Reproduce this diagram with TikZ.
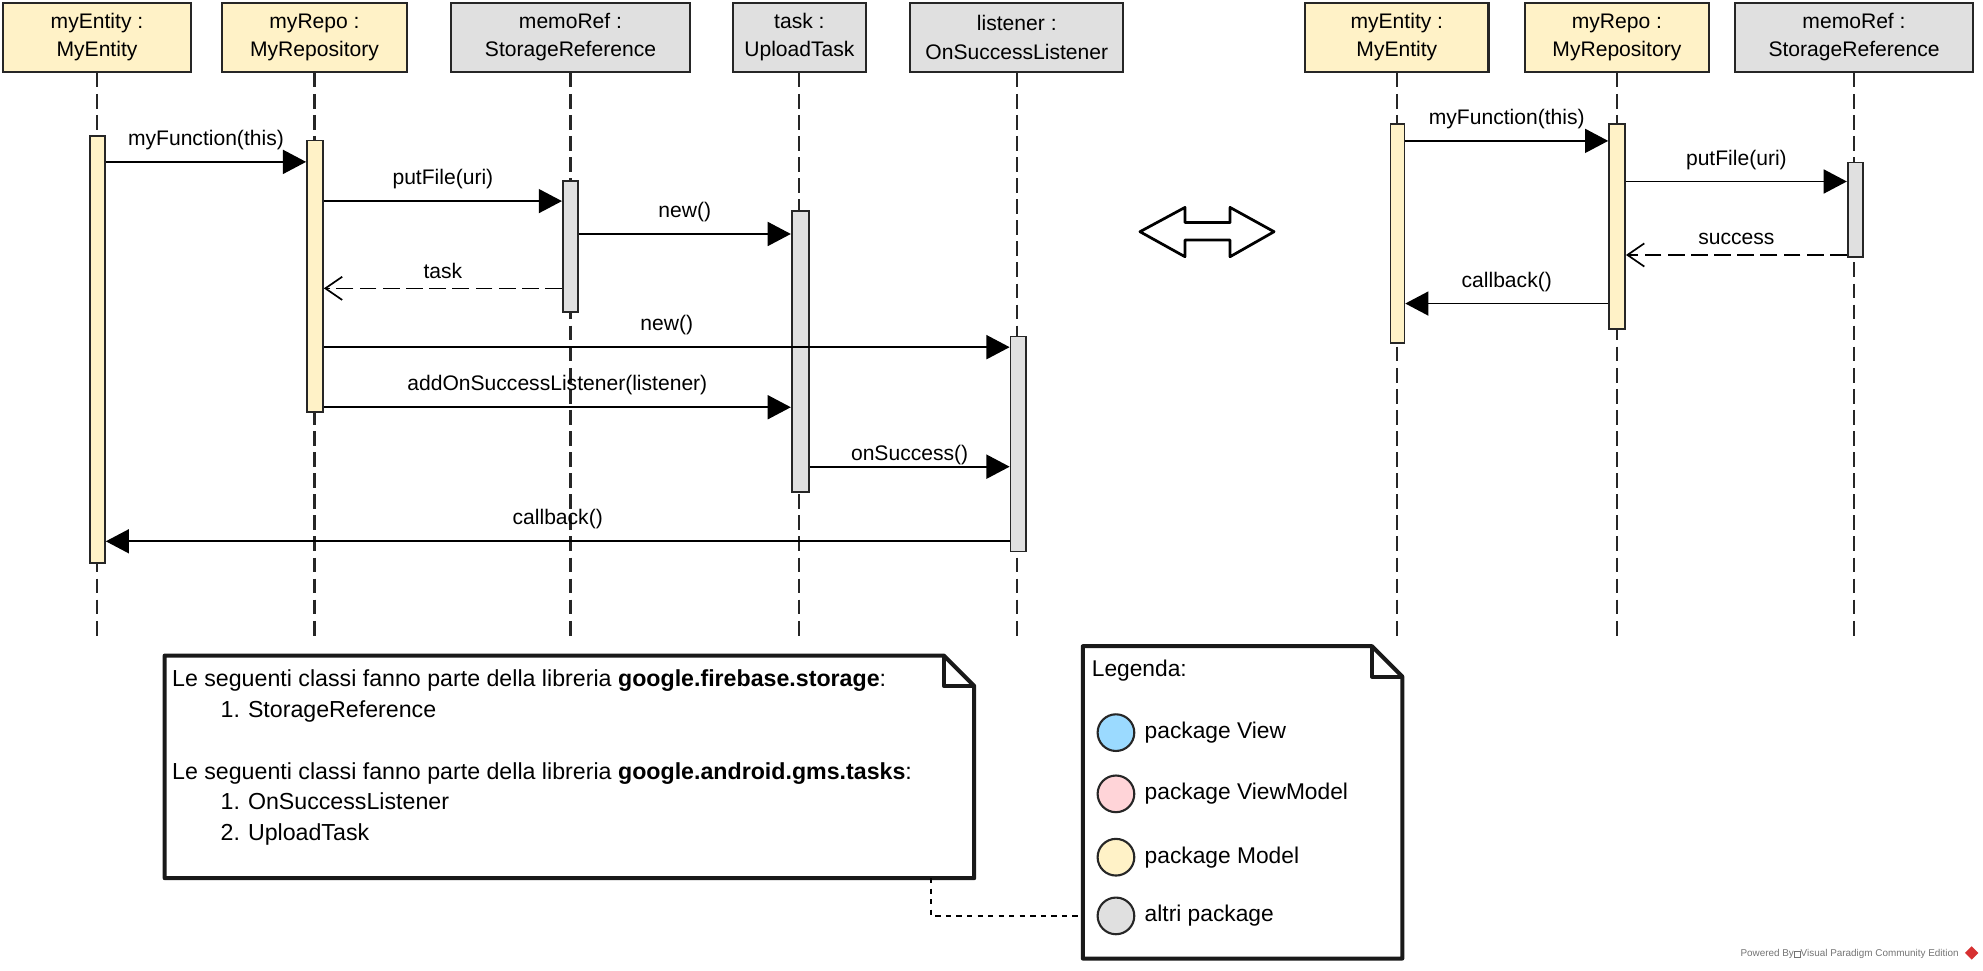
\documentclass[tikz,border=0pt]{standalone}
\usepackage{fontspec}
\setmainfont{Liberation Sans}
\usetikzlibrary{arrows.meta,fit,shapes.geometric}
\definecolor{mdlyellow}{RGB}{255,242,199}
\definecolor{othgray}{RGB}{224,224,224}
\definecolor{viewblue}{RGB}{155,218,255}
\definecolor{vmpink}{RGB}{255,212,216}
\definecolor{vpred}{RGB}{214,48,49}
\newcommand\libitem[2]{\makebox[36pt][l]{\hspace*{23pt}#1}#2}
\begin{document}
\begin{tikzpicture}[
x=0.6pt,
y=-0.6pt,
font=\fontsize{10}{13.5}\selectfont,
obj/.style={%
draw=black!85,
line width=1pt,
minimum height=32.6pt,
inner sep=0pt,
align=center,
},
life/.style={%
draw=black!85,
line width=1pt,
dash pattern=on 7pt off 3pt,
},
act/.style={%
draw=black!85,
line width=0.8pt,
inner sep=0pt,
},
msg/.style={%
line width=0.8pt,
-{Triangle[length=11pt,width=11.4pt]},
},
ret/.style={%
line width=0.8pt,
dash pattern=on 8pt off 3pt,
-{Straight Barb[length=8pt,width=11pt]},
},
lbl/.style={%
anchor=base,
midway,
yshift=7.8pt,
inner sep=0pt,
},
notebox/.style={%
inner sep=0pt,
},
noteline/.style={%
draw=black!90,
line width=1.9pt,
line join=round,
},
legdot/.style={%
draw=black!85,
line width=1pt,
circle,
minimum size=17.4pt,
inner sep=0pt,
},
link/.style={%
line width=0.8pt,
dash pattern=on 2.5pt off 2.5pt,
},
]
\useasboundingbox (0,0) rectangle (1568,767);
%% Objects (left)
\node[obj, fill=mdlyellow, minimum width=89pt]at(76.7,29.5)(h_ent){myEntity :\\MyEntity};
\node[obj, fill=mdlyellow, minimum width=88pt]at(248.7,29.5)(h_repo){myRepo :\\MyRepository};
\node[obj, fill=othgray, minimum width=113.4pt]at(451.1,29.5)(h_ref){memoRef :\\StorageReference};
\node[obj, fill=othgray, minimum width=63pt]at(632.1,29.5)(h_task){task :\\UploadTask};
\node[obj, fill=othgray, minimum width=101pt]at(804,29.5)(h_lsn){listener :\\OnSuccessListener};
%% Objects (right)
\node[obj, fill=mdlyellow, minimum width=87pt]at(1104.5,29.5)(k_ent){myEntity :\\MyEntity};
\node[obj, fill=mdlyellow, minimum width=87pt]at(1278.5,29.5)(k_repo){myRepo :\\MyRepository};
\node[obj, fill=othgray, minimum width=113pt]at(1466,29.5)(k_ref){memoRef :\\StorageReference};
%% Lifelines
\coordinate (lifeend) at (0,503);
\foreach \nm in {h_ent,h_repo,h_ref,h_task,h_lsn,k_ent,k_repo,k_ref}{%
\draw[life](\nm.south)--(\nm.south|-lifeend);
}
%% Activations (left)
\node[act, fill=mdlyellow, fit={(71,107.5) (83,445)}](a_ent){};
\node[act, fill=mdlyellow, fit={(242.7,111) (255.4,326)}](a_repo){};
\node[act, fill=othgray, fit={(445,143) (457,246.5)}](a_ref){};
\node[act, fill=othgray, fit={(626,167) (639.5,389)}](a_task){};
\node[act, fill=othgray, fit={(799,266) (811,436)}](a_lsn){};
%% Activations (right)
\node[act, fill=mdlyellow, fit={(1099.5,98) (1110.5,271)}](b_ent){};
\node[act, fill=mdlyellow, fit={(1272.3,98) (1285,260)}](b_repo){};
\node[act, fill=othgray, fit={(1461,128.6) (1473,203.4)}](b_ref){};
%% Messages (left)
\draw[msg](a_ent.east|-0,128)--(a_repo.west|-0,128)node[lbl]{myFunction(this)};
\draw[msg](a_repo.east|-0,159)--(a_ref.west|-0,159)node[lbl]{putFile(uri)};
\draw[msg](a_ref.east|-0,185)--(a_task.west|-0,185)node[lbl]{new()};
\draw[ret](a_ref.west|-0,228)--(a_repo.east|-0,228)node[lbl, yshift=-3pt]{task};
\draw[msg](a_repo.east|-0,274.5)--(a_lsn.west|-0,274.5)node[lbl]{new()};
\draw[msg](a_repo.east|-0,322)--(a_task.west|-0,322)node[lbl]{addOnSuccessListener(listener)};
\draw[msg](a_task.east|-0,369)--(a_lsn.west|-0,369)node[lbl, yshift=-4.8pt]{onSuccess()};
\draw[msg](a_lsn.west|-0,428)--(a_ent.east|-0,428)node[lbl]{callback()};
%% Messages (right)
\draw[msg](b_ent.east|-0,111.4)--(b_repo.west|-0,111.4)node[lbl]{myFunction(this)};
\draw[msg](b_repo.east|-0,143.5)--(b_ref.west|-0,143.5)node[lbl]{putFile(uri)};
\draw[ret](b_ref.west|-0,201.6)--(b_repo.east|-0,201.6)node[lbl, yshift=-3pt]{success};
\draw[msg](b_repo.west|-0,240)--(b_ent.east|-0,240)node[lbl]{callback()};
%% Double arrow
\draw[line width=1.3pt, line join=round](901.4,183.2)--(937,164)--(937,176)--(972.6,176)--(972.6,164)
--(1007.4,183.2)--(972.6,203)--(972.6,189.8)--(937,189.8)--(937,203)--cycle;
%% Note: libraries
\node[notebox, fit={(130.5,518.7) (770,694)}](libnote){};
\draw[noteline, fill=white](libnote.south west)--(libnote.north west)--([xshift=-14.4pt]libnote.north east)
--([yshift=-14.4pt]libnote.north east)--(libnote.south east)--cycle;
\draw[noteline]([xshift=-14.4pt]libnote.north east)|-([yshift=-14.4pt]libnote.north east);
\node[anchor=base west, inner sep=0pt, font=\fontsize{11}{14.6}\selectfont]at(135.8,543)(libtext){%
\begin{tabular}[t]{@{}l@{}}
Le seguenti classi fanno parte della libreria \textbf{google.firebase.storage}:\\
\libitem{1.}{StorageReference}\\
\\
Le seguenti classi fanno parte della libreria \textbf{google.android.gms.tasks}:\\
\libitem{1.}{OnSuccessListener}\\
\libitem{2.}{UploadTask}
\end{tabular}};
%% Note: legend
\node[notebox, fit={(856.5,511.3) (1108.5,757.6)}](legnote){};
\draw[noteline, fill=white](legnote.south west)--(legnote.north west)--([xshift=-14.4pt]legnote.north east)
--([yshift=-14.4pt]legnote.north east)--(legnote.south east)--cycle;
\draw[noteline]([xshift=-14.4pt]legnote.north east)|-([yshift=-14.4pt]legnote.north east);
\node[anchor=base west, inner sep=0pt, font=\fontsize{10.8}{13}\selectfont]at(863,535)(legtitle){Legenda:};
\foreach \c/\t/\y [count=\i] in {viewblue/package View/579.3,vmpink/package ViewModel/627.7,mdlyellow/package Model/677.8,othgray/altri package/724.2}{%
\node[legdot, fill=\c]at(882.4,\y)(leg_\i){};
\node[anchor=base west, inner sep=0pt, font=\fontsize{10.8}{13}\selectfont]at(904.8,\y+4.8)(legt_\i){\t};
}
%% Link between the notes
\draw[link]([xshift=-20.5pt]libnote.south east)|-(legnote.west|-leg_4);
%% Watermark
\node[anchor=base east, inner sep=0pt, text=black!55, font=\fontsize{4.7}{5}\selectfont]at(1549,756.5)(vp){Powered By{\fboxsep=0pt\fboxrule=0.3pt\fbox{\phantom{n}}}Visual Paradigm Community Edition};
\node[diamond, fill=vpred, minimum size=6.5pt, inner sep=0pt]at(1559,753.5)(vp_logo){};
\end{tikzpicture}
\end{document}
